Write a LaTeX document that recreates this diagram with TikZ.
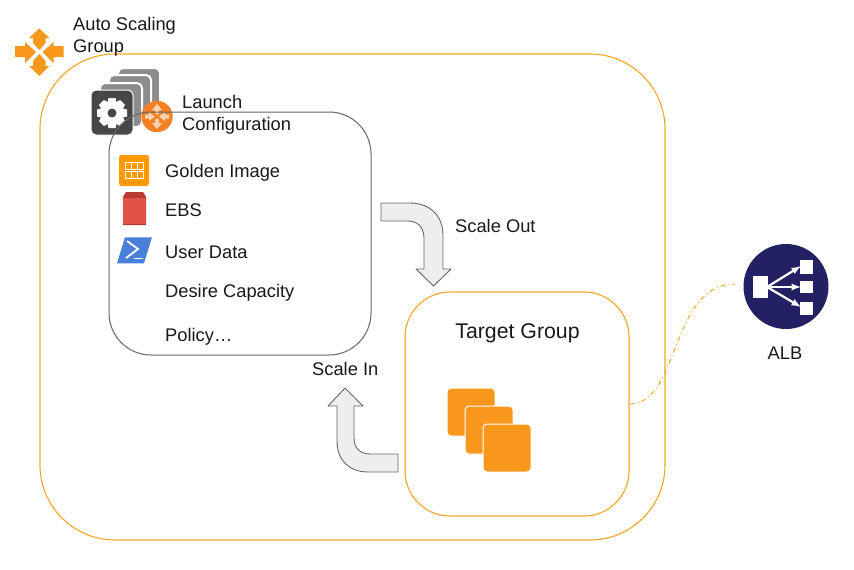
\documentclass[tikz,border=0pt]{standalone}
\usepackage{fontspec}
\setmainfont{Liberation Sans}
\definecolor{awsorange}{HTML}{F7981D}
\definecolor{imageorange}{HTML}{FF9A05}
\definecolor{badgeorange}{HTML}{F58024}
\definecolor{badgearrow}{HTML}{FCD5B0}
\definecolor{framegold}{HTML}{F5A623}
\definecolor{albnavy}{HTML}{232163}
\definecolor{arrowfill}{HTML}{EEEEEE}
\definecolor{ebsred}{HTML}{E05243}
\definecolor{ebsdark}{HTML}{B8392D}
\definecolor{psblue}{HTML}{4A7FD8}
\tikzset{
  label/.style={anchor=west, inner sep=0pt, align=left, text=black!90, font=\fontsize{18.3}{22}\selectfont},
  frame/.style={draw=framegold, line width=1.1pt, rounded corners=#1, inner sep=0pt},
  bendarrow/.style={draw=black!60, fill=arrowfill, line width=0.9pt, line join=round},
  stackcard/.style={fill=black!45, draw=white, line width=2pt, rounded corners=5pt},
}
\begin{document}
\begin{tikzpicture}[x=1pt, y=-1pt]
\useasboundingbox (0,0) rectangle (854,570);
% Grupo externo
\node[frame=75pt, minimum width=625pt, minimum height=486pt] (asgFrame) at (352.5,297) {};
% Icone do grupo
\fill[awsorange] (15,46) -- (25,46) -- (25,42) -- (36,52) -- (25,63) -- (25,57) -- (15,57) -- cycle;
\fill[awsorange] (63.5,46) -- (53.5,46) -- (53.5,42) -- (42.5,52) -- (53.5,63) -- (53.5,57) -- (63.5,57) -- cycle;
\fill[awsorange] (39.3,28.5) -- (49.5,38) -- (45.5,38) -- (45.5,43) -- (39.3,50) -- (33,43) -- (33,38) -- (29,38) -- cycle;
\fill[awsorange] (39.3,76) -- (49.5,66) -- (45.5,66) -- (45.5,61) -- (39.3,54) -- (33,61) -- (33,66) -- (29,66) -- cycle;
\node[label] (asgLabel) at (73,36.5) {Auto Scaling\\Group};
% Pilha da configuracao
\foreach \dx/\dy in {27/-22,18/-15,9/-7}
  \draw[stackcard] (91+\dx,90+\dy) rectangle (133+\dx,134+\dy);
\draw[fill=black!72, draw=white, line width=1pt, rounded corners=5pt] (91,90) rectangle (133,135);
% Engrenagem
\foreach \a in {0,45,...,315}
  \fill[white, shift={(112,113)}, rotate=\a] (-3.5,-15) -- (3.5,-15) -- (5,-9) -- (-5,-9) -- cycle;
\fill[white] (112,113) circle (11.5);
\fill[black!72] (112,113) circle (4.5);
% Selo laranja
\fill[badgeorange] (157,116.5) circle (15.7);
\fill[badgearrow] (157,104) -- (162,110) -- (159,110) -- (159,113) -- (157,115) -- (155,113) -- (155,110) -- (152,110) -- cycle;
\fill[badgearrow] (157,129) -- (162,123) -- (159,123) -- (159,120) -- (157,118) -- (155,120) -- (155,123) -- (152,123) -- cycle;
\fill[badgearrow] (145,114.5) -- (149,114.5) -- (149,112) -- (155,116.5) -- (149,121) -- (149,118.5) -- (145,118.5) -- cycle;
\fill[badgearrow] (169,114.5) -- (165,114.5) -- (165,112) -- (159,116.5) -- (165,121) -- (165,118.5) -- (169,118.5) -- cycle;
% Caixa de configuracao
\node[draw=black!60, line width=1pt, rounded corners=42pt, minimum width=262pt, minimum height=243pt, inner sep=0pt] (launchBox) at (240,233.5) {};
\node[label] (launchLabel) at (182,115) {Launch\\Configuration};
% Golden Image
\fill[imageorange, rounded corners=2.5pt] (119,155) rectangle (149,186);
\foreach \cy in {162,171.5}
  \draw[white, line width=1pt] (125,\cy) rectangle (143,\cy+7) (131,\cy) -- (131,\cy+7) (137,\cy) -- (137,\cy+7);
\node[label] (imageLabel) at (165,172.5) {Golden Image};
% EBS
\fill[ebsdark] (123,197) -- (126,192) -- (143,192) -- (146,197) -- (146,225) -- (123,225) -- cycle;
\fill[ebsred] (123,198) rectangle (146,224);
\node[label] (ebsLabel) at (165,210) {EBS};
% User Data
\fill[psblue] (125,237.3) -- (152,237.3) -- (144,263.3) -- (117,263.3) -- cycle;
\draw[white, line width=1.8pt] (127,241) -- (138,249) -- (126,258);
\draw[white, line width=1.5pt] (134,258.5) -- (143,258.5);
\node[label] (userLabel) at (165,252) {User Data};
% Demais itens
\node[label] (capacityLabel) at (165,292.5) {Desire Capacity};
\node[label] (policyLabel) at (165,336.5) {Policy…};
% Setas de escala
\draw[bendarrow] (381,203) -- (410,203) .. controls (430,203) and (443,216) .. (443,235) -- (443,269) -- (451,269) -- (433.5,286) -- (416,269) -- (424,269) -- (424,238) .. controls (424,228) and (418,221) .. (408,221) -- (381,221) -- cycle;
\node[label] (outLabel) at (455,226) {Scale Out};
\draw[bendarrow] (345,388) -- (363,406) -- (354,406) -- (354,438) .. controls (354,448) and (360,454) .. (370,454) -- (398,454) -- (398,472) -- (368,472) .. controls (349,472) and (337,460) .. (337,441) -- (337,406) -- (328,406) -- cycle;
\node[label] (inLabel) at (312,368.5) {Scale In};
% Grupo alvo
\node[frame=45pt, minimum width=224pt, minimum height=224pt] (targetBox) at (517,404) {};
\node[text=black!90, font=\fontsize{21.3}{24}\selectfont] (targetLabel) at (517.5,333) {Target Group};
\foreach \dx in {0,18,36}
  \draw[fill=awsorange, draw=white, line width=1pt, rounded corners=4pt] (447+\dx,388+\dx) rectangle (495+\dx,436+\dx);
% ALB
\node[circle, fill=albnavy, minimum size=85pt, inner sep=0pt] (albIcon) at (786,286.5) {};
\fill[white] (753,276) rectangle (768,298);
\fill[white] (800,260) rectangle (813,274);
\fill[white] (800,281) rectangle (813,293);
\fill[white] (800,301.5) rectangle (813,315);
\foreach \ty in {266,287,307}
  \draw[white, line width=2.2pt, -latex] (767,287) -- (801,\ty);
\node[text=black!90, font=\fontsize{18.3}{22}\selectfont] (albLabel) at (785,353) {ALB};
% Ligacao
\coordinate (albEnd) at (735,284);
\draw[draw=framegold, line width=1pt, dash pattern=on 5pt off 3pt on 1pt off 3pt] (targetBox.east) .. controls (680,404) and (670,284) .. (albEnd);
\end{tikzpicture}
\end{document}
